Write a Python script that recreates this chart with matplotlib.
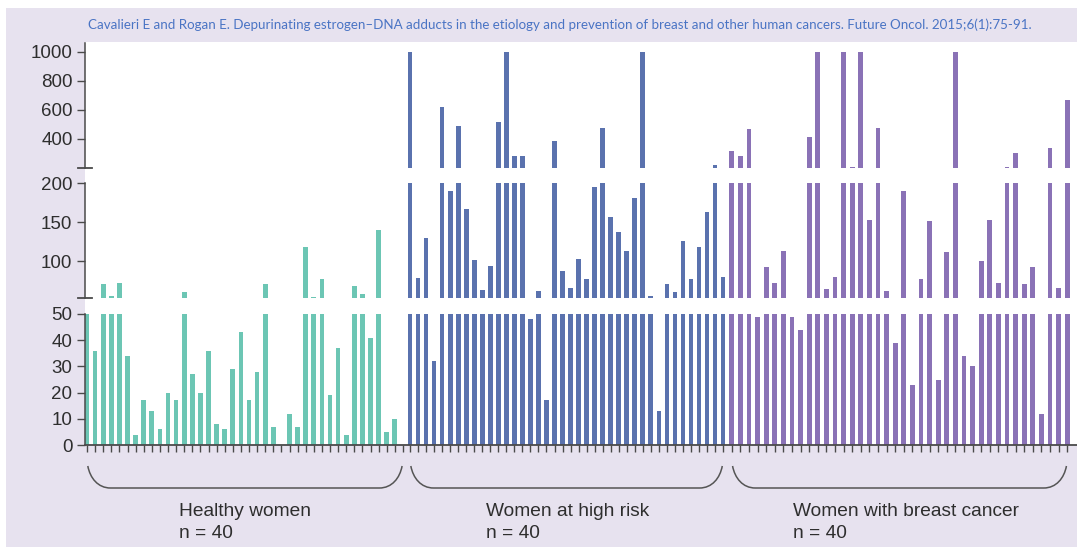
import numpy as np
import matplotlib.pyplot as plt
from matplotlib.path import Path
from matplotlib.patches import PathPatch, Rectangle
from matplotlib.transforms import blended_transform_factory

# adduct ratios, 40 women per group
healthy = [50, 36, 70, 55, 72, 34, 4, 17, 13, 6, 20, 17, 60, 27, 20, 36, 8, 6, 29, 43,
           17, 28, 70, 7, 0, 12, 7, 118, 54, 77, 19, 37, 4, 68, 58, 41, 140, 5, 10, 0]
high_risk = [1000, 78, 130, 32, 620, 190, 490, 167, 101, 63, 94, 515, 1000, 283, 283, 48, 62, 17, 385, 87,
             65, 102, 77, 195, 478, 156, 137, 113, 181, 1000, 55, 13, 70, 60, 126, 77, 118, 163, 222, 80]
cancer = [317, 283, 467, 49, 92, 72, 113, 49, 44, 412, 1000, 64, 79, 1000, 208, 1000, 153, 478, 61, 39,
          190, 23, 77, 152, 25, 112, 1000, 34, 30, 100, 153, 72, 205, 305, 70, 92, 12, 336, 65, 669]

group_names = ['Healthy women', 'Women at high risk', 'Women with breast cancer']
group_n = ['n = 40', 'n = 40', 'n = 40']
colors = ['#6cc6b4', '#5a72ae', '#8a72b6']

title = ('Cavalieri E and Rogan E. Depurinating estrogen\u2013DNA adducts in the etiology and prevention '
         'of breast and other human cancers. Future Oncol. 2015;6(1):75-91.')

lo_ticks = [0, 10, 20, 30, 40, 50]
mid_ticks = [100, 150, 200]
hi_ticks = [400, 600, 800, 1000]

# layout (pixels of the 1077x547 picture)
W, H = 1077, 547
lavender = '#e7e2ef'
spine_c = '#4a4a4a'
text_c = '#2e2e2e'
group_start = [0, 39.88, 79.6]
group_step = [1.0, 0.991, 1.062]
label_frac = [0.29, 0.24, 0.18]

fig = plt.figure(figsize=(W / 100, H / 100), dpi=100)
fig.patch.set_facecolor('white')
fig.patches.append(Rectangle((6 / W, 0), 1 - 6 / W, 1 - 8 / H, transform=fig.transFigure,
                             facecolor=lavender, edgecolor='none', zorder=-3))
fig.patches.append(Rectangle((85 / W, (H - 445) / H), (W - 85) / W, (445 - 42) / H,
                             transform=fig.transFigure, facecolor='white', edgecolor='none', zorder=-2))


def px_axes(top, bottom):
    ax = fig.add_axes([85 / W, (H - bottom) / H, (W - 85) / W, (bottom - top) / H])
    ax.set_facecolor('none')
    return ax


ax_lo = px_axes(314, 445)
ax_mid = px_axes(183.3, 298)
ax_hi = px_axes(43, 168)

values = [healthy, high_risk, cancer]
xs = [s + st * np.arange(len(v)) for s, st, v in zip(group_start, group_step, values)]
xlim = ((85 - 87) / 8.1, (W - 87) / 8.1)

for ax, ylim, ticks in [(ax_lo, (0, 50), lo_ticks), (ax_mid, (52.4, 200), mid_ticks),
                        (ax_hi, (200, 1060), hi_ticks)]:
    for x, v, c in zip(xs, values, colors):
        ax.bar(x, v, width=0.58, color=c, linewidth=0)
    ax.set_xlim(*xlim)
    ax.set_ylim(*ylim)
    ax.set_yticks(ticks)
    ax.tick_params(axis='y', direction='out', length=6, width=1, color=spine_c,
                   labelsize=13.5, labelcolor=text_c, pad=3)
    for side in ['top', 'right', 'bottom']:
        ax.spines[side].set_visible(False)
    ax.spines['left'].set_color(spine_c)
    ax.spines['left'].set_linewidth(1.1)
    ax.set_xticks([])

for ax in [ax_mid, ax_hi]:
    ax.plot([-0.007, 0.007], [0, 0], transform=ax.transAxes, clip_on=False, color=spine_c, lw=1.3)

ax_lo.spines['bottom'].set_visible(True)
ax_lo.spines['bottom'].set_color(spine_c)
ax_lo.spines['bottom'].set_linewidth(1.3)
ax_lo.set_xticks(np.concatenate(xs))
ax_lo.set_xticklabels([])
ax_lo.tick_params(axis='x', direction='out', length=5, width=1, color=spine_c)

# group brackets and labels
tr = blended_transform_factory(ax_lo.transData, fig.transFigure)
y_top, y_bot = (H - 466) / H, (H - 488) / H
for x, name, n, f in zip(xs, group_names, group_n, label_frac):
    x0, x1 = x[0] + 0.1, x[-1] - 0.1
    d = 2.8
    verts = [(x0, y_top), (x0 + 0.1 * d, y_bot + 0.45 * (y_top - y_bot)), (x0 + 0.45 * d, y_bot), (x0 + d, y_bot),
             (x1 - d, y_bot),
             (x1 - 0.45 * d, y_bot), (x1 - 0.1 * d, y_bot + 0.45 * (y_top - y_bot)), (x1, y_top)]
    codes = [Path.MOVETO, Path.CURVE4, Path.CURVE4, Path.CURVE4, Path.LINETO,
             Path.CURVE4, Path.CURVE4, Path.CURVE4]
    fig.patches.append(PathPatch(Path(verts, codes), transform=tr, facecolor='none',
                                 edgecolor='#555555', lw=1.1))
    xt = x0 + f * (x1 - x0)
    fig.text(xt, (H - 511) / H, name, transform=tr, ha='left', va='center',
             fontsize=13.8, color=text_c, family='Liberation Sans')
    fig.text(xt, (H - 533) / H, n, transform=tr, ha='left', va='center',
             fontsize=13.8, color=text_c, family='Liberation Sans')

fig.text(560 / W, (H - 25) / H, title, ha='center', va='center', color='#4a74c4',
         fontsize=9.6, family='Lato')

for ax in [ax_lo, ax_mid, ax_hi]:
    for lbl in ax.get_yticklabels():
        lbl.set_family('Liberation Sans')

fig.savefig('out.png', dpi=100)
